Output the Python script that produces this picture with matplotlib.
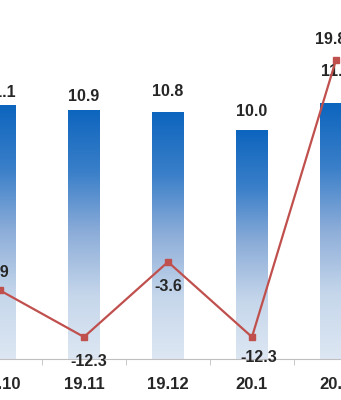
import numpy as np
import matplotlib.pyplot as plt
from matplotlib.colors import LinearSegmentedColormap

months = ['19.10', '19.11', '19.12', '20.1', '20.2']
output = [11.1, 10.9, 10.8, 10.0, 11.2]
growth = [-6.9, -12.3, -3.6, -12.3, 19.8]

# label offsets (points), tweaked to sit like the original
bar_off = [(0, 9.5), (0, 10), (0, 15), (0, 13.5), (0, 23)]
line_off = [(-3.5, 13), (3.5, -18), (0, -18), (5, -15), (-3.5, 14.5)]

plt.rcParams['font.family'] = ['Liberation Sans', 'DejaVu Sans']
txt = '#262626'

fig = plt.figure(figsize=(3.41, 4.0), dpi=100)
ax = fig.add_axes([0, 41 / 400, 1, 359 / 400])
x = np.arange(len(months))

bars = ax.bar(x, output, width=0.38, color='none', edgecolor='none')
cmap = LinearSegmentedColormap.from_list(
    'blues', ['#0d65be', '#3a7fc9', '#8eaed9', '#c6d7eb', '#dde7f3'])
grad = np.linspace(0, 1, 256).reshape(-1, 1)
for b in bars:
    x0, w, h = b.get_x(), b.get_width(), b.get_height()
    im = ax.imshow(grad, cmap=cmap, extent=[x0, x0 + w, 0, h],
                   aspect='auto', origin='upper', zorder=2)
    im.set_clip_path(b)

for xi, v, off in zip(x, output, bar_off):
    ax.annotate(f'{v:.1f}', (xi, v), xytext=off, textcoords='offset points',
                ha='center', va='center', fontsize=11.5, fontweight='bold', color=txt)

ax.set_xlim(0, 4.06)
ax.set_ylim(0, 15.71)
ax.set_yticks([])
for s in ['top', 'left', 'right']:
    ax.spines[s].set_visible(False)
ax.spines['bottom'].set_color('#bfbfbf')
ax.set_xticks(x)
ax.set_xticklabels(months, fontsize=12, fontweight='bold', color=txt)
ax.set_xticks(x[:-1] + 0.5, minor=True)
ax.tick_params(axis='x', which='major', length=0, pad=13)
ax.tick_params(axis='x', which='minor', length=4, color='#bfbfbf')

ax2 = ax.twinx()
ax2.plot(x, growth, color='#c0504d', lw=1.6, marker='s', markersize=5,
         markerfacecolor='#c0504d', markeredgecolor='#c0504d', zorder=3)
for xi, v, off in zip(x, growth, line_off):
    ax2.annotate(f'{v:.1f}', (xi, v), xytext=off, textcoords='offset points',
                 ha='center', va='center', fontsize=11.5, fontweight='bold', color=txt)
ax2.set_ylim(-14.85, 26.75)
ax2.set_yticks([])
for s in ax2.spines.values():
    s.set_visible(False)

fig.savefig('out.png', dpi=100)
